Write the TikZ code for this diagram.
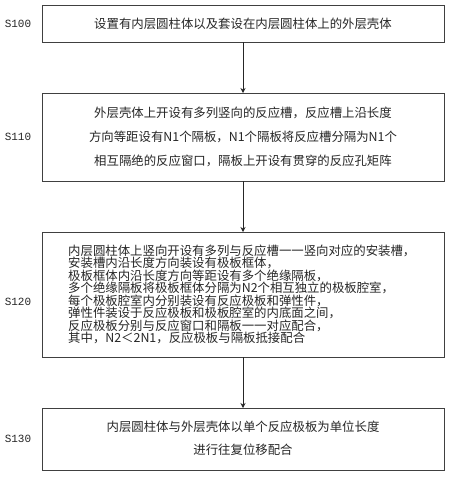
\documentclass[tikz,border=0pt]{standalone}
\usepackage{fontspec}
\setmainfont{Noto Sans CJK SC}
\newfontfamily\labfont{Liberation Mono}
\usetikzlibrary{arrows.meta}
\begin{document}
\begin{tikzpicture}[x=1pt,y=-1pt,
  box/.style={draw=black!75,line width=0.8pt},
  lab/.style={font=\labfont\fontsize{11}{12}\selectfont,text=black!85},
  txt/.style={font=\fontsize{12.4}{24}\selectfont,text=black!85,align=center,inner sep=0pt},
  conn/.style={draw=black!85,line width=0.8pt,-{Stealth[length=5pt,width=5pt]}}]
\useasboundingbox (0,0) rectangle (450,477);
\fill[white] (0,0) rectangle (450,477);
\draw[box] (42,5) rectangle (444,42);
\coordinate (b1t) at (243,5); \coordinate (b1b) at (243,42);
\draw[box] (42,93) rectangle (444,181);
\coordinate (b2t) at (243,93); \coordinate (b2b) at (243,181);
\draw[box] (42,232) rectangle (444,357);
\coordinate (b3t) at (243,232); \coordinate (b3b) at (243,357);
\draw[box] (42,408) rectangle (444,470);
\coordinate (b4t) at (243,408); \coordinate (b4b) at (243,470);
\node[lab] (l1) at (18,24) {S100};
\node[lab] (l2) at (18,137) {S110};
\node[lab] (l3) at (18,302) {S120};
\node[lab] (l4) at (18,439) {S130};
\node[txt] (t1) at (243,24) {设置有内层圆柱体以及套设在内层圆柱体上的外层壳体};
\node[txt] (t2) at (243,137) {外层壳体上开设有多列竖向的反应槽，反应槽上沿长度\\方向等距设有N1个隔板，N1个隔板将反应槽分隔为N1个\\相互隔绝的反应窗口，隔板上开设有贯穿的反应孔矩阵};
\node[txt,font=\fontsize{12.4}{12.5}\selectfont,align=left,anchor=west] (t3) at (68,294.5) {内层圆柱体上竖向开设有多列与反应槽一一竖向对应的安装槽，\\安装槽内沿长度方向装设有极板框体，\\极板框体内沿长度方向等距设有多个绝缘隔板，\\多个绝缘隔板将极板框体分隔为N2个相互独立的极板腔室，\\每个极板腔室内分别装设有反应极板和弹性件，\\弹性件装设于反应极板和极板腔室的内底面之间，\\反应极板分别与反应窗口和隔板一一对应配合，\\其中，N2＜2N1，反应极板与隔板抵接配合};
\node[txt,font=\fontsize{12.4}{23}\selectfont] (t4) at (243,438.5) {内层圆柱体与外层壳体以单个反应极板为单位长度\\进行往复位移配合};
\draw[conn] (b1b) -- (b2t);
\draw[conn] (b2b) -- (b3t);
\draw[conn] (b3b) -- (b4t);
\end{tikzpicture}
\end{document}
